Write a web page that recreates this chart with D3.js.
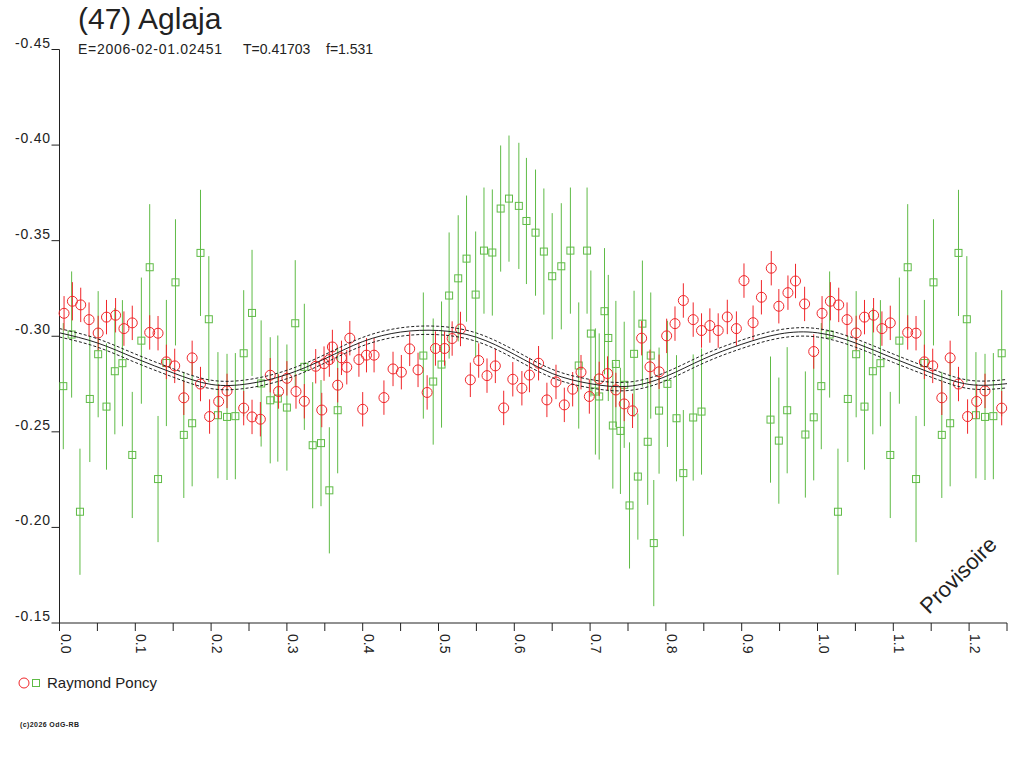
<!DOCTYPE html>
<html>
<head>
<meta charset="utf-8">
<script src="https://cdn.jsdelivr.net/npm/d3@7"></script>
<style>
  body { margin: 0; background: #fff; }
  svg { display: block; font-family: "Liberation Sans", Arial, sans-serif; }
</style>
</head>
<body>
<svg id="chart" width="1024" height="768"></svg>
<script>
// phase, magnitude, error  (two filters of the same observer)
const redObs = [
  [0.006,-0.3120,0.009],[0.017,-0.3183,0.010],[0.028,-0.3164,0.009],[0.039,-0.3087,0.009],
  [0.051,-0.3017,0.009],[0.062,-0.3100,0.009],[0.074,-0.3110,0.009],[0.085,-0.3040,0.009],
  [0.096,-0.3070,0.009],[0.119,-0.3020,0.009],[0.130,-0.3016,0.009],[0.141,-0.2866,0.009],
  [0.152,-0.2845,0.009],[0.164,-0.2678,0.009],[0.175,-0.2887,0.009],[0.186,-0.2750,0.009],
  [0.198,-0.2580,0.009],[0.210,-0.2659,0.009],[0.221,-0.2714,0.009],[0.243,-0.2624,0.009],
  [0.254,-0.2578,0.009],[0.265,-0.2566,0.009],[0.278,-0.2796,0.009],[0.289,-0.2711,0.009],
  [0.300,-0.2780,0.009],[0.312,-0.2711,0.009],[0.323,-0.2660,0.009],[0.338,-0.2843,0.009],
  [0.346,-0.2614,0.009],[0.349,-0.2857,0.009],[0.356,-0.2878,0.009],[0.360,-0.2944,0.009],
  [0.367,-0.2744,0.009],[0.372,-0.2887,0.009],[0.379,-0.2838,0.009],[0.383,-0.2990,0.009],
  [0.395,-0.2878,0.009],[0.400,-0.2618,0.009],[0.405,-0.2901,0.009],[0.415,-0.2901,0.009],
  [0.428,-0.2679,0.009],[0.440,-0.2829,0.009],[0.451,-0.2812,0.009],[0.462,-0.2934,0.009],
  [0.473,-0.2824,0.009],[0.485,-0.2706,0.009],[0.496,-0.2936,0.009],[0.508,-0.2936,0.009],
  [0.518,-0.2988,0.009],[0.529,-0.3038,0.009],[0.542,-0.2772,0.009],[0.553,-0.2873,0.009],
  [0.564,-0.2794,0.009],[0.575,-0.2845,0.009],[0.586,-0.2625,0.009],[0.598,-0.2775,0.009],
  [0.610,-0.2728,0.009],[0.620,-0.2797,0.009],[0.632,-0.2859,0.009],[0.643,-0.2667,0.009],
  [0.655,-0.2761,0.009],[0.666,-0.2641,0.009],[0.677,-0.2723,0.009],[0.688,-0.2812,0.009],
  [0.699,-0.2685,0.009],[0.712,-0.2777,0.009],[0.723,-0.2805,0.009],[0.734,-0.2719,0.009],
  [0.745,-0.2646,0.009],[0.756,-0.2610,0.009],[0.768,-0.2990,0.009],[0.779,-0.2840,0.009],
  [0.791,-0.2814,0.009],[0.801,-0.3002,0.009],[0.812,-0.3066,0.009],[0.823,-0.3187,0.009],
  [0.836,-0.3087,0.009],[0.847,-0.3030,0.009],[0.858,-0.3056,0.009],[0.869,-0.3030,0.009],
  [0.881,-0.3101,0.009],[0.893,-0.3040,0.009],[0.903,-0.3291,0.009],[0.915,-0.3071,0.009],
  [0.926,-0.3204,0.009],[0.939,-0.3356,0.009],[0.949,-0.3157,0.009],[0.961,-0.3228,0.009],
  [0.971,-0.3289,0.009],[0.983,-0.3169,0.009],[0.995,-0.2920,0.009]
];

const greenObs = [
  [0.005,-0.2739,0.033],[0.016,-0.3009,0.033],[0.027,-0.2082,0.033],[0.040,-0.2672,0.033],
  [0.051,-0.2906,0.033],[0.062,-0.2632,0.033],[0.073,-0.2817,0.033],[0.083,-0.2859,0.033],
  [0.096,-0.2379,0.033],[0.108,-0.2977,0.033],[0.119,-0.3361,0.033],[0.130,-0.2253,0.033],
  [0.141,-0.2860,0.033],[0.153,-0.3282,0.033],[0.164,-0.2484,0.033],[0.175,-0.2545,0.033],
  [0.186,-0.3436,0.033],[0.197,-0.3089,0.033],[0.209,-0.2587,0.033],[0.221,-0.2578,0.033],
  [0.232,-0.2582,0.033],[0.243,-0.2911,0.033],[0.254,-0.3122,0.033],[0.266,-0.2753,0.033],
  [0.278,-0.2665,0.033],[0.288,-0.2674,0.033],[0.300,-0.2627,0.033],[0.311,-0.3068,0.033],
  [0.323,-0.2840,0.033],[0.334,-0.2430,0.033],[0.345,-0.2441,0.033],[0.356,-0.2194,0.033],
  [0.367,-0.2613,0.033],[0.480,-0.2899,0.033],[0.493,-0.2763,0.033],[0.504,-0.2852,0.033],
  [0.514,-0.3213,0.033],[0.526,-0.3303,0.033],[0.537,-0.3406,0.033],[0.549,-0.3218,0.033],
  [0.560,-0.3448,0.033],[0.571,-0.3438,0.033],[0.582,-0.3668,0.033],[0.593,-0.3720,0.033],
  [0.606,-0.3682,0.033],[0.616,-0.3603,0.033],[0.628,-0.3542,0.033],[0.639,-0.3443,0.033],
  [0.650,-0.3314,0.033],[0.662,-0.3366,0.033],[0.674,-0.3448,0.033],[0.685,-0.2847,0.033],
  [0.696,-0.3448,0.033],[0.701,-0.3014,0.033],[0.707,-0.2711,0.033],[0.712,-0.2685,0.033],
  [0.719,-0.3131,0.033],[0.724,-0.2991,0.033],[0.730,-0.2533,0.033],[0.734,-0.2855,0.033],
  [0.740,-0.2505,0.033],[0.745,-0.2746,0.033],[0.752,-0.2115,0.033],[0.758,-0.2908,0.033],
  [0.763,-0.2266,0.033],[0.769,-0.3066,0.033],[0.776,-0.2448,0.033],[0.780,-0.2899,0.033],
  [0.784,-0.1918,0.033],[0.791,-0.2611,0.033],[0.802,-0.2751,0.033],[0.814,-0.2571,0.033],
  [0.823,-0.2284,0.033],[0.836,-0.2575,0.033],[0.847,-0.2606,0.033],[0.938,-0.2564,0.033],
  [0.949,-0.2454,0.033],[0.960,-0.2613,0.033],[0.984,-0.2486,0.033],[0.995,-0.2576,0.033]
];

// fitted light curve
const fitPhase = [0.00,0.05,0.10,0.15,0.20,0.25,0.30,0.35,0.40,0.45,0.50,0.55,0.60,
                  0.65,0.70,0.75,0.80,0.85,0.90,0.95,1.00,1.05,1.10,1.15,1.20,1.25];
const fitMag = [-0.3018,-0.2965,-0.2885,-0.2808,-0.2748,-0.2752,-0.2800,-0.2882,-0.2972,-0.3022,
                -0.3030,-0.2995,-0.2905,-0.2805,-0.2752,-0.2738,-0.2790,-0.2882,-0.2958,-0.3012,
                -0.3018,-0.2965,-0.2885,-0.2808,-0.2748,-0.2752];
const fitBand = 0.0022;

const yTicks = [-0.45,-0.40,-0.35,-0.30,-0.25,-0.20,-0.15];
const xTicks = d3.range(0, 26).map(i => i * 0.05);
const xLabels = ["0.0","0.1","0.2","0.3","0.4","0.5","0.6","0.7","0.8","0.9","1.0","1.1","1.2"];

const svg = d3.select("#chart");
const ink = "#222";

const x = d3.scaleLinear().domain([0, 1.25]).range([59.5, 1007]);
const y = d3.scaleLinear().domain([-0.45, -0.15]).range([49.5, 623]);

// points with phase < 0.25 are shown again one cycle later
const wrap = obs => obs.flatMap(d => d[0] + 1 <= 1.25 ? [d, [d[0] + 1, d[1], d[2]]] : [d]);

// title block
svg.append("text").attr("x", 78).attr("y", 29).attr("font-size", 30).attr("fill", ink)
  .text("(47) Aglaja");
svg.append("text").attr("x", 78).attr("y", 54).attr("font-size", 14).attr("fill", ink)
  .attr("textLength", 144).attr("lengthAdjust", "spacing").text("E=2006-02-01.02451");
svg.append("text").attr("x", 243).attr("y", 54).attr("font-size", 14).attr("fill", ink)
  .text("T=0.41703");
svg.append("text").attr("x", 326).attr("y", 54).attr("font-size", 14).attr("fill", ink)
  .text("f=1.531");

// axes
svg.append("line").attr("x1", x(0)).attr("x2", x(0)).attr("y1", y(-0.45)).attr("y2", y(-0.15))
  .attr("stroke", ink);
svg.append("line").attr("x1", x(0)).attr("x2", x(1.25)).attr("y1", y(-0.15)).attr("y2", y(-0.15))
  .attr("stroke", ink);

svg.selectAll("line.ytick").data(yTicks).join("line").attr("class", "ytick")
  .attr("x1", x(0) - 8).attr("x2", x(0)).attr("y1", d => y(d)).attr("y2", d => y(d))
  .attr("stroke", ink);
svg.selectAll("text.ylab").data(yTicks).join("text").attr("class", "ylab")
  .attr("x", 50).attr("y", d => y(d) - 2).attr("text-anchor", "end")
  .attr("font-size", 14).attr("fill", ink)
  .attr("textLength", 35).attr("lengthAdjust", "spacing").text(d => d.toFixed(2));

svg.selectAll("line.xtick").data(xTicks).join("line").attr("class", "xtick")
  .attr("x1", d => x(d)).attr("x2", d => x(d)).attr("y1", y(-0.15)).attr("y2", y(-0.15) + 8)
  .attr("stroke", ink);
svg.selectAll("text.xlab").data(xLabels).join("text").attr("class", "xlab")
  .attr("transform", (d, i) => `translate(${x(i * 0.1) + 1},${y(-0.15) + 11}) rotate(90)`)
  .attr("font-size", 14).attr("fill", ink).text(d => d);

// observations: error bars then markers
const green = "#5fbb46", red = "#f0262a";
const gData = wrap(greenObs), rData = wrap(redObs);

svg.selectAll("line.gerr").data(gData).join("line").attr("class", "gerr")
  .attr("x1", d => x(d[0])).attr("x2", d => x(d[0]))
  .attr("y1", d => y(d[1] - d[2])).attr("y2", d => y(d[1] + d[2]))
  .attr("stroke", green);
svg.selectAll("rect.gpt").data(gData).join("rect").attr("class", "gpt")
  .attr("x", d => x(d[0]) - 3.5).attr("y", d => y(d[1]) - 3.5)
  .attr("width", 7).attr("height", 7).attr("fill", "none").attr("stroke", green);

svg.selectAll("line.rerr").data(rData).join("line").attr("class", "rerr")
  .attr("x1", d => x(d[0])).attr("x2", d => x(d[0]))
  .attr("y1", d => y(d[1] - d[2])).attr("y2", d => y(d[1] + d[2]))
  .attr("stroke", red);
svg.selectAll("circle.rpt").data(rData).join("circle").attr("class", "rpt")
  .attr("cx", d => x(d[0])).attr("cy", d => y(d[1])).attr("r", 5)
  .attr("fill", "none").attr("stroke", red);

// fitted curve with its uncertainty band
const fit = fitPhase.map((p, i) => [p, fitMag[i]]);
[[0, null], [-fitBand, "3,2"], [fitBand, "3,2"]].forEach(([off, dash]) => {
  svg.append("path").datum(fit)
    .attr("d", d3.line().x(d => x(d[0])).y(d => y(d[1] + off)).curve(d3.curveNatural))
    .attr("fill", "none").attr("stroke", ink).attr("stroke-width", 1)
    .attr("stroke-dasharray", dash);
});

// watermark
svg.append("text").attr("transform", "translate(929,615) rotate(-45)")
  .attr("font-size", 22).attr("fill", ink).text("Provisoire");

// legend
svg.append("circle").attr("cx", 24).attr("cy", 683).attr("r", 5).attr("fill", "none").attr("stroke", red);
svg.append("rect").attr("x", 32.5).attr("y", 679.5).attr("width", 7).attr("height", 7)
  .attr("fill", "none").attr("stroke", green);
svg.append("text").attr("x", 47).attr("y", 688).attr("font-size", 15).attr("fill", ink)
  .text("Raymond Poncy");

svg.append("text").attr("x", 20).attr("y", 727).attr("font-size", 7).attr("font-weight", "bold")
  .attr("fill", ink).attr("textLength", 59).attr("lengthAdjust", "spacing")
  .text("(c)2026 OdG-RB");
</script>
</body>
</html>
